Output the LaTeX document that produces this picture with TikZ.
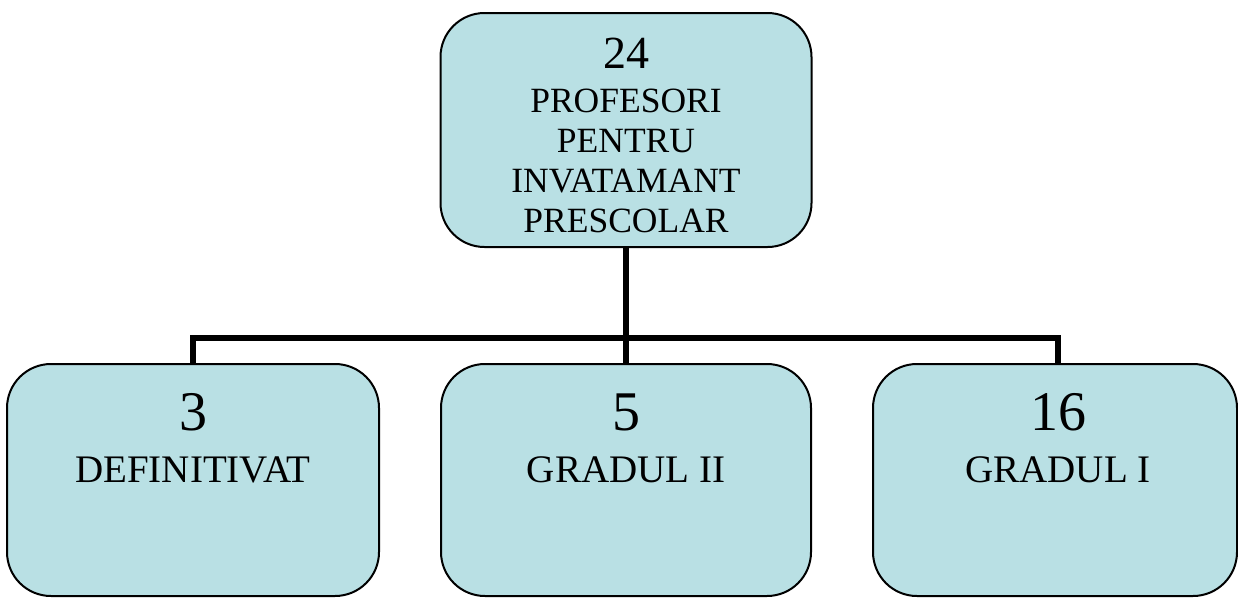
\documentclass[tikz,border=0pt]{standalone}
\usepackage{fontspec}
\setmainfont{Liberation Serif}
\definecolor{boxfill}{RGB}{185,224,228}
\tikzset{
  orgbox/.style={draw=black, line width=2pt, fill=boxfill, rounded corners=44pt, inner sep=0pt},
  toplbl/.style={align=center, anchor=base, inner sep=0pt, font=\fontsize{35.5}{40}\selectfont},
  botlbl/.style={align=center, anchor=base, inner sep=0pt, font=\fontsize{39}{52}\selectfont},
  conn/.style={line width=5.5pt}
}
\begin{document}
\begin{tikzpicture}[x=1pt,y=-1pt]
\useasboundingbox (0,0) rectangle (1238,597);
\coordinate (bus) at (626,338);
\node[orgbox, minimum width=371pt, minimum height=234pt] (top) at (626,130) {};
\node[orgbox, minimum width=372pt, minimum height=232pt] (l) at (193,480) {};
\node[orgbox, minimum width=370pt, minimum height=232pt] (m) at (626,480) {};
\node[orgbox, minimum width=364pt, minimum height=232pt] (r) at (1055,480) {};
\node[toplbl] (toptext) at (626,232) {{\fontsize{46}{46}\selectfont 24}\\[4pt]PROFESORI\\PENTRU\\INVATAMANT\\PRESCOLAR};
\node[botlbl] (ltext) at (193,482) {{\fontsize{56}{56}\selectfont 3}\\DEFINITIVAT};
\node[botlbl] (mtext) at (626,482) {{\fontsize{56}{56}\selectfont 5}\\GRADUL II};
\node[botlbl] (rtext) at (1058,482) {{\fontsize{56}{56}\selectfont 16}\\GRADUL I};
\draw[conn] (top.south) -- (bus);
\draw[conn] (bus) -| (l.north);
\draw[conn] (bus) -- (m.north);
\draw[conn] (bus) -| ([xshift=3pt]r.north);
\end{tikzpicture}
\end{document}
